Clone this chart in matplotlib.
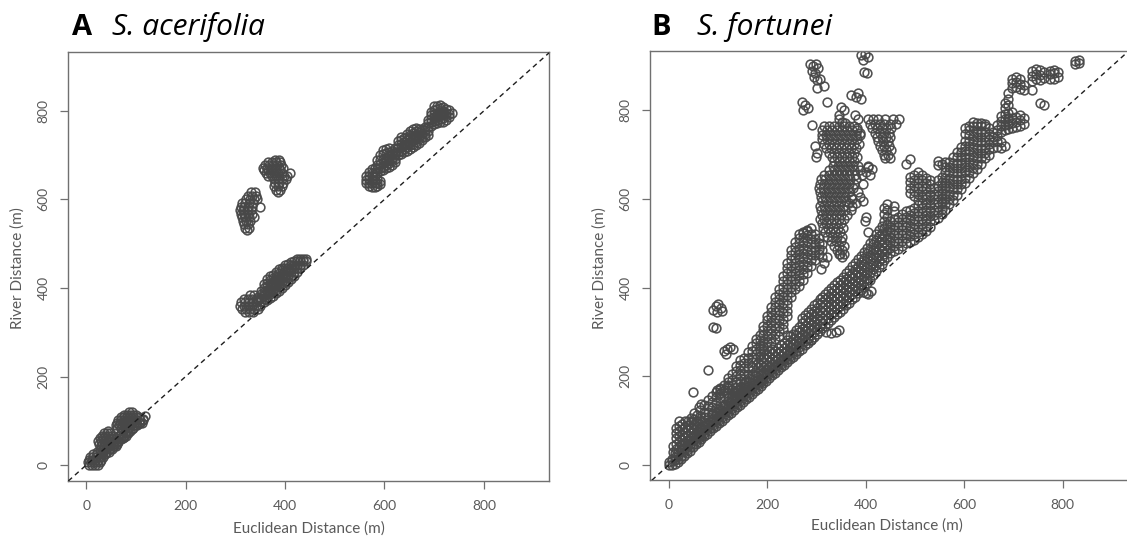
import matplotlib
matplotlib.use("Agg")
import matplotlib.pyplot as plt

plt.rcParams['font.family'] = ['Lato', 'DejaVu Sans']

# ---------------- Panel A: S. acerifolia (rows: (y, [x...]) or (x, [y...])) ----------------
A_origin_yrows = [
    (0, [6, 12, 18, 24]), (6, [4, 10, 16, 22, 28]), (12, [6, 12, 18, 24, 30]),
    (18, [8, 14, 20, 28, 34]), (24, [14, 22, 30, 38]), (30, [22, 28, 34, 40, 46]),
    (36, [28, 34, 40, 46, 52]), (42, [30, 36, 42, 48, 54, 60]),
    (48, [26, 32, 38, 44, 50, 56, 62]), (54, [24, 30, 36, 42, 48, 56, 64]),
    (60, [28, 34, 40, 46, 52, 60, 68, 74]), (66, [32, 38, 44, 50, 66, 74, 80]),
    (72, [36, 42, 48, 70, 78, 84]), (78, [44, 74, 82, 88]), (84, [62, 70, 78, 86, 94]),
    (90, [60, 66, 72, 80, 88, 96, 102]), (96, [62, 68, 74, 80, 86, 92, 100, 106, 112]),
    (102, [64, 70, 76, 82, 88, 94, 100, 108, 114]), (108, [70, 76, 82, 88, 94, 100, 106]),
    (114, [76, 82, 88, 94, 100]), (120, [86, 92]),
]
A_origin_low_x = [40, 48, 56, 64, 70, 76, 84, 92, 100, 108, 114, 118]
A_origin_low_y = [28, 36, 44, 52, 58, 64, 74, 82, 90, 96, 104, 110]
A_upper1_yrows = [
    (616, [332, 340]), (608, [326, 334, 342]), (600, [322, 330, 338, 344]),
    (592, [314, 320, 328, 336]), (584, [312, 318, 326, 334, 350]),
    (576, [310, 316, 324, 332]), (568, [312, 318, 326, 334]),
    (560, [314, 320, 328, 338]), (552, [316, 322, 330]), (544, [318, 326]),
    (536, [320, 328]), (530, [324]),
]
A_upper2_yrows = [
    (690, [380, 388]), (684, [366, 374, 382, 390]), (678, [360, 368, 376, 384, 392]),
    (672, [356, 364, 372, 380, 388, 396]), (666, [358, 366, 374, 382, 390]),
    (660, [362, 370, 378, 386, 394, 410]), (654, [366, 374, 382, 398, 404]),
    (646, [378, 386, 394, 402]), (638, [380, 388, 396]), (630, [378, 386, 394]),
    (622, [382, 390]), (616, [386]),
]
A_mid1_yrows = [
    (384, [330, 338]), (376, [318, 326, 334, 342]), (368, [312, 320, 328, 336, 344]),
    (360, [310, 318, 326, 334, 342, 350]), (352, [314, 322, 330, 338, 346]),
    (346, [320, 328, 336]),
]
A_mid2_xrows = [
    (346, [372, 380]), (352, [370, 378, 386, 394]), (358, [368, 376, 384, 392, 400, 410]),
    (364, [372, 380, 388, 396, 404, 412, 420]), (370, [378, 386, 394, 402, 410, 418, 426]),
    (376, [382, 390, 398, 406, 414, 422, 430]), (382, [388, 396, 404, 412, 420, 428, 436]),
    (388, [394, 402, 410, 418, 426, 434, 442]), (394, [400, 408, 416, 424, 432, 440, 446]),
    (400, [406, 414, 422, 430, 438, 446, 452]), (406, [414, 422, 430, 438, 446, 454]),
    (412, [420, 428, 436, 444, 452, 458]), (418, [428, 436, 444, 452, 460]),
    (424, [436, 444, 452, 460, 466]), (430, [444, 452, 460, 466]),
    (436, [452, 460, 466]), (442, [460, 466]),
]
A_far1_xrows = [
    (562, [636, 644, 652]), (568, [630, 638, 646, 654, 662]),
    (574, [628, 636, 644, 652, 660, 668]), (580, [628, 636, 644, 652]),
    (586, [630, 638, 646]), (592, [634, 642]),
]
A_far2_xrows = [
    (580, [662, 672]), (586, [660, 668, 678, 688]), (592, [664, 672, 680, 690, 700]),
    (598, [666, 674, 682, 692, 702, 712]), (604, [670, 678, 686, 694, 704, 714]),
    (610, [674, 682, 690, 698, 706, 716]), (616, [678, 686, 694, 702, 710]),
    (622, [684, 692, 700, 708, 716]), (628, [700, 708, 716, 724, 732]),
    (634, [702, 710, 718, 726, 734, 742]), (640, [706, 714, 722, 730, 738]),
    (646, [710, 718, 726, 734, 742, 748]), (652, [714, 722, 730, 738, 746, 754]),
    (658, [718, 726, 734, 742, 750, 758]), (664, [722, 730, 738, 746, 754, 762]),
    (670, [728, 736, 744, 752, 760]), (676, [734, 742, 750, 758]),
    (682, [740, 748, 756, 764]), (688, [746, 754, 764, 772, 780]),
    (694, [766, 774, 782, 790, 798]), (700, [770, 778, 786, 794, 802, 810]),
    (706, [772, 780, 788, 796, 804, 812]), (712, [774, 782, 790, 798, 806, 814]),
    (718, [776, 784, 792, 800, 808]), (724, [780, 788, 796, 804]),
    (730, [786, 794, 802]), (736, [796]),
]

# ---------------- Panel B: S. fortunei ----------------
B_main_xrows = [
    (0, [0, 6]), (6, [0, 8, 14]), (12, [2, 10, 18, 26]), (18, [6, 14, 22, 30]),
    (24, [12, 20, 28, 36]), (30, [20, 28, 36, 44]), (36, [26, 34, 42, 50]),
    (42, [32, 40, 48, 56]), (48, [40, 48, 56, 64]), (54, [46, 54, 62, 70]),
    (60, [52, 60, 68, 76]), (66, [58, 66, 74, 82]), (72, [64, 72, 80, 88]),
    (78, [70, 78, 86, 94]), (84, [76, 84, 92, 100]), (90, [82, 90, 98, 106, 114]),
    (96, [88, 96, 104, 112, 120]), (102, [94, 102, 110, 118, 126]),
    (108, [100, 108, 116, 124, 132]), (114, [106, 114, 122, 130, 138]),
    (120, [112, 120, 128, 136, 144]), (126, [118, 126, 134, 142, 150]),
    (132, [124, 132, 140, 148, 156, 164]), (138, [130, 138, 146, 154, 162, 170]),
    (144, [136, 144, 152, 160, 168, 176]), (150, [142, 150, 158, 166, 174, 182]),
    (156, [148, 156, 164, 172, 180, 190]), (162, [154, 162, 170, 178, 186, 196]),
    (168, [160, 168, 176, 184, 194, 204]), (174, [166, 174, 182, 190, 200, 210]),
    (180, [172, 180, 188, 198, 208, 220, 230]), (186, [178, 186, 194, 204, 214, 226, 238]),
    (192, [184, 192, 200, 210, 220, 232, 244]), (198, [190, 198, 206, 216, 226, 238, 250]),
    (204, [196, 204, 212, 222, 232, 244, 256]), (210, [202, 210, 218, 228, 240, 252, 262]),
    (216, [208, 216, 224, 234, 246, 258]), (222, [214, 222, 230, 240, 252, 264]),
    (228, [220, 228, 236, 246, 258, 270]), (234, [226, 234, 242, 252, 264, 276]),
    (240, [232, 240, 248, 258, 270, 282, 292]), (246, [238, 246, 256, 266, 278, 290]),
    (252, [244, 252, 262, 272, 284, 296]), (258, [250, 258, 268, 280, 292, 304]),
    (264, [256, 266, 276, 288, 300, 312]), (270, [262, 272, 282, 294, 306, 320, 332]),
    (276, [270, 280, 290, 302, 314, 326, 338]), (282, [276, 286, 298, 310, 322, 334, 346]),
    (288, [282, 292, 304, 316, 328, 340, 352]), (294, [288, 300, 312, 324, 336, 348, 360]),
    (300, [296, 306, 318, 330, 342, 354, 366]), (306, [302, 314, 326, 338, 350, 362, 374]),
    (312, [308, 320, 332, 344, 356, 368, 380]), (318, [314, 326, 338, 350, 362, 374, 386]),
    (324, [320, 332, 344, 356, 368, 380, 392]), (330, [328, 340, 352, 364, 376, 388, 400]),
    (336, [334, 346, 358, 370, 382, 394, 406]), (342, [340, 352, 364, 376, 388, 400, 412]),
    (348, [346, 358, 370, 382, 394, 406, 418]), (354, [352, 364, 376, 388, 400, 412, 424]),
    (360, [360, 372, 384, 396, 408, 420, 432]), (366, [366, 378, 390, 402, 414, 426, 440]),
    (372, [374, 386, 398, 410, 422, 434, 448]), (378, [380, 392, 404, 416, 428, 442, 456]),
    (384, [388, 400, 412, 424, 436, 450, 464]), (390, [394, 406, 418, 430, 444, 458, 472]),
    (396, [402, 414, 426, 440, 454, 468, 480]), (402, [410, 422, 436, 450, 464, 478, 490]),
    (408, [418, 432, 446, 460, 474, 488, 500]), (414, [428, 442, 456, 470, 484, 498, 510]),
    (420, [438, 452, 466, 480, 494, 508, 520]), (426, [446, 460, 474, 488, 502, 516, 530]),
    (432, [454, 468, 482, 496, 510, 524, 540]),
    (438, [462, 476, 490, 504, 518, 534, 550, 566, 580]),
    (444, [470, 484, 498, 512, 528, 544, 560, 575, 588]),
    (450, [478, 490, 502, 514, 526, 538, 550]),
    (458, [482, 494, 506, 518, 530, 542, 556, 572, 584]),
    (466, [488, 500, 512, 524, 536, 548, 560]),
    (474, [494, 506, 518, 530, 542, 554, 566]),
    (482, [500, 512, 524, 536, 548, 560, 572, 680]),
    (490, [504, 516, 528, 540, 552, 564, 576, 614, 626, 638, 650, 690]),
    (498, [508, 520, 532, 544, 556, 568, 580, 606, 618, 630, 642, 654]),
    (506, [514, 526, 538, 550, 562, 574, 586, 598, 612, 624, 636, 648, 660]),
    (514, [520, 532, 544, 556, 568, 580, 592, 604, 618, 630, 642, 654]),
    (522, [528, 540, 552, 564, 576, 588, 600, 612, 624, 636, 648]),
    (530, [538, 550, 562, 574, 586, 598, 610, 622, 634, 644]),
    (538, [552, 564, 576, 588, 600, 612, 624]),
    (546, [558, 570, 582, 594, 606, 618, 630, 642, 676, 686]),
    (554, [566, 578, 590, 602, 614, 626, 638, 650, 680]),
    (562, [576, 588, 600, 612, 624, 636, 648, 660, 672, 684]),
    (570, [588, 600, 612, 624, 636, 648, 660, 672, 684]),
    (578, [598, 610, 622, 634, 646, 658, 670, 682, 694]),
    (586, [610, 622, 634, 646, 658, 670, 682, 694, 706]),
    (594, [622, 634, 646, 658, 670, 682, 694, 706, 718]),
    (602, [636, 648, 660, 672, 684, 696, 708, 720, 732, 746, 760]),
    (610, [648, 660, 672, 684, 696, 708, 720, 732, 744, 756, 766]),
    (618, [658, 670, 682, 694, 706, 718, 730, 742, 754, 766, 774]),
    (626, [668, 680, 692, 704, 716, 728, 740, 752, 764, 772]),
    (634, [680, 692, 704, 716, 728, 740, 752, 764, 772]),
    (642, [692, 704, 716, 728, 740, 752, 764, 770]),
    (650, [700, 712, 724, 736, 748, 760]),
    (658, [716, 728, 740, 752]), (666, [718, 730, 742, 756, 768]),
    (674, [716, 728, 752, 764, 776, 788]), (682, [720, 756, 768, 780, 792, 806, 818]),
    (690, [758, 770, 782, 794, 812, 826, 840]), (698, [760, 772, 784, 796, 850, 862, 872]),
    (706, [762, 774, 786, 852, 864, 876]), (714, [766, 778, 790, 848, 860, 872]),
    (722, [770, 782, 846, 858]), (738, [846, 866, 878, 890]), (746, [870, 882, 894]),
    (754, [816, 868, 880, 892]), (762, [812, 874, 886]), (774, [870, 882, 890]),
    (782, [872, 884, 892]), (790, [876, 888]), (826, [906, 912]), (834, [908, 914]),
]
B_cloud_xrows = [
    (8, [30, 42]), (14, [36, 48, 60, 72, 84]), (20, [40, 52, 64, 76, 88, 98]),
    (26, [44, 56, 68, 80, 92]), (32, [50, 62, 74, 86, 98]), (38, [54, 66, 78, 90, 100]),
    (44, [60, 72, 84, 96, 106]), (50, [68, 80, 92, 104, 118]), (56, [76, 88, 100, 112]),
    (64, [86, 98, 110, 124]), (72, [96, 108, 120, 134]), (80, [108, 120, 132, 146]),
    (88, [118, 130, 142, 156]), (96, [128, 140, 152, 164]),
]
B_branch_xrows = [
    (104, [150, 162, 174]), (112, [156, 168, 180]), (120, [150, 162, 174, 186, 196]),
    (128, [156, 168, 180, 192, 204]), (136, [164, 176, 188, 200, 212, 222]),
    (144, [190, 202, 214, 226, 236]), (152, [194, 206, 218, 230, 242]),
    (160, [206, 218, 230, 242, 254]), (168, [220, 232, 244, 256, 268]),
    (176, [238, 250, 262, 274, 284]), (184, [246, 258, 270, 282, 294]),
    (192, [256, 268, 280, 292, 304, 314]), (200, [266, 278, 290, 302, 314, 326, 336]),
    (208, [274, 286, 298, 310, 322, 334, 346, 356]),
    (216, [284, 296, 308, 320, 332, 344, 356, 368, 378]),
    (224, [290, 302, 314, 326, 338, 350, 362, 374, 386, 398]),
    (232, [306, 318, 330, 342, 354, 366, 378, 390, 402, 414, 426]),
    (240, [336, 348, 360, 372, 384, 396, 408, 420, 432, 444, 456]),
    (248, [378, 390, 402, 414, 426, 438, 450, 462, 474, 486]),
    (256, [396, 408, 420, 432, 444, 456, 468, 480, 492, 504]),
    (264, [404, 416, 428, 440, 452, 464, 476, 488, 500, 512]),
    (272, [418, 430, 442, 454, 466, 478, 490, 502, 514, 524]),
    (280, [434, 446, 458, 470, 482, 494, 506, 518, 528]),
    (288, [450, 462, 474, 486, 498, 510, 522]), (296, [462, 474, 486, 498, 510, 520]),
    (304, [476, 488, 500, 512]), (310, [486, 498]),
]
B_column_yrows = [
    (765, [316, 326, 336, 346, 356, 366, 376]),
    (755, [312, 322, 332, 342, 352, 362, 372, 382]),
    (745, [310, 320, 330, 340, 350, 360, 370, 380, 388]),
    (735, [312, 322, 332, 342, 352, 362, 372, 382]),
    (725, [316, 326, 336, 346, 356, 366, 376, 386]),
    (715, [320, 330, 340, 350, 360, 370, 380]), (705, [326, 336, 346, 356, 366, 376]),
    (695, [332, 342, 352, 362, 372, 382]), (685, [336, 346, 356, 366, 376]),
    (675, [334, 344, 354, 364, 374, 384]), (665, [326, 336, 346, 356, 366, 376, 388]),
    (655, [316, 326, 336, 346, 356, 366, 378, 392]),
    (645, [308, 318, 328, 338, 348, 358, 368, 380]),
    (635, [306, 316, 326, 336, 346, 356, 366, 376, 394]),
    (625, [304, 314, 324, 334, 344, 354, 364, 374]),
    (615, [306, 316, 326, 336, 346, 356, 366, 384]),
    (605, [308, 318, 328, 338, 348, 358, 370]), (595, [310, 320, 330, 340, 350, 360]),
    (585, [306, 316, 326, 336, 346, 356, 372]), (575, [308, 318, 328, 338, 348, 358]),
    (565, [310, 320, 330, 340, 350, 362]), (555, [306, 316, 326, 336, 346, 356]),
    (545, [310, 320, 330, 340, 350]), (535, [314, 324, 334, 344, 354]),
    (525, [318, 328, 338, 348]), (515, [322, 332, 342, 352]), (505, [330, 340, 350]),
    (495, [336, 346, 356]), (485, [342, 352]), (476, [348, 356]),
]
B_side_yrows = [
    (780, [405, 415, 425, 440, 455, 468]), (770, [408, 418, 428, 438, 450, 462]),
    (760, [412, 422, 432, 442, 452]), (750, [418, 428, 438, 448]),
    (740, [422, 432, 442, 450]), (730, [425, 435, 445]), (720, [428, 438, 448]),
    (710, [432, 442, 452]), (700, [436, 446]), (693, [440, 450]),
]
B_scatter_x = [286, 292, 298, 290, 296, 302, 294, 300, 306, 315, 300, 270, 276, 272, 282,
               290, 296, 300, 298, 322, 350, 356, 346, 345, 352, 358, 370, 380, 390, 384,
               390, 398, 405, 395, 397, 403, 378, 385, 382, 388, 405, 412,
               90, 95, 100, 105, 98, 108, 90, 96, 112, 118, 124, 130, 116, 80, 48, 60, 66,
               98, 104, 110, 118, 102, 120, 308, 316, 322, 312, 345, 352,
               320, 330, 340, 345, 282, 288, 400, 405, 395, 410,
               265, 272, 280, 288, 372, 380, 388, 395, 400, 398, 405, 365, 370, 400, 405, 408]
B_scatter_y = [905, 900, 905, 890, 885, 895, 875, 868, 872, 855, 850, 820, 812, 800, 805,
               768, 720, 705, 695, 820, 808, 800, 790, 780, 775, 772, 835, 830, 826, 840,
               925, 928, 920, 915, 888, 885, 790, 780, 760, 750, 672, 668,
               350, 358, 362, 355, 345, 348, 312, 310, 258, 262, 265, 262, 250, 214, 165, 130, 138,
               168, 172, 166, 175, 160, 180, 442, 455, 470, 470, 475, 470,
               300, 298, 300, 305, 285, 282, 387, 385, 390, 392,
               520, 525, 530, 535, 600, 590, 605, 595, 560, 550, 525, 590, 575, 660, 675, 655]

TICKS = [0, 200, 400, 600, 800]


def from_xrows(rows):
    xs, ys = [], []
    for x, yl in rows:
        for y in yl:
            xs.append(x)
            ys.append(y)
    return xs, ys


def from_yrows(rows):
    xs, ys = [], []
    for y, xl in rows:
        for x in xl:
            xs.append(x)
            ys.append(y)
    return xs, ys


def gather(xrow_sets, yrow_sets, extras=()):
    X, Y = [], []
    for r in xrow_sets:
        a, b = from_xrows(r)
        X += a
        Y += b
    for r in yrow_sets:
        a, b = from_yrows(r)
        X += a
        Y += b
    for ex, ey in extras:
        X += list(ex)
        Y += list(ey)
    return X, Y


W, H = 1127, 541
fig = plt.figure(figsize=(W / 100, H / 100), dpi=100)
GRAY = '#5a5a5a'
PT_COL = '#484848'


def make_axes(left_px, right_px, top_px, bottom_px, xlim, ylim):
    ax = fig.add_axes([left_px / W, (H - bottom_px) / H,
                       (right_px - left_px) / W, (bottom_px - top_px) / H])
    ax.set_xlim(*xlim)
    ax.set_ylim(*ylim)
    ax.set_xticks(TICKS)
    ax.set_yticks(TICKS)
    for s in ax.spines.values():
        s.set_color('#707070')
        s.set_linewidth(1.0)
    ax.tick_params(axis='both', length=6, width=0.9, color='#707070',
                   labelcolor=GRAY, labelsize=10, pad=7.5)
    ax.tick_params(axis='y', labelrotation=90)
    for lab in ax.get_yticklabels():
        lab.set_va('center')
    return ax


def draw(ax, X, Y):
    ax.plot(X, Y, linestyle='none', marker='o', markersize=6.3, markerfacecolor='none',
            markeredgecolor=PT_COL, markeredgewidth=1.15, alpha=0.95)
    ax.axline((0, 0), slope=1, color='#1e1e1e', linewidth=1.0, dashes=(3.6, 2.8), zorder=5)


axA = make_axes(68.3, 549, 52, 481, (-36, 931), (-36, 933))
XA, YA = gather([A_mid2_xrows, A_far1_xrows, A_far2_xrows],
                [A_origin_yrows, A_upper1_yrows, A_upper2_yrows, A_mid1_yrows],
                [(A_origin_low_x, A_origin_low_y)])
draw(axA, XA, YA)

axB = make_axes(650.3, 1129.5, 50.7, 480.3, (-38, 936), (-35, 935))
XB, YB = gather([B_main_xrows, B_cloud_xrows, B_branch_xrows],
                [B_column_yrows, B_side_yrows], [(B_scatter_x, B_scatter_y)])
draw(axB, XB, YB)

# axis titles
fig.text(308.7 / W, (H - 533) / H, 'Euclidean Distance (m)', ha='center', va='baseline',
         fontsize=11, color=GRAY)
fig.text(887 / W, (H - 530) / H, 'Euclidean Distance (m)', ha='center', va='baseline',
         fontsize=11, color=GRAY)
fig.text(18 / W, (H - 268) / H, 'River Distance (m)', ha='center', va='center',
         rotation=90, fontsize=11, color=GRAY)
fig.text(600 / W, (H - 268) / H, 'River Distance (m)', ha='center', va='center',
         rotation=90, fontsize=11, color=GRAY)

# panel titles
TFONT = ['Open Sans', 'DejaVu Sans']
fig.text(71.7 / W, (H - 35) / H, 'A', ha='left', va='baseline', fontsize=21,
         fontweight='bold', color='black', family=TFONT)
fig.text(111.7 / W, (H - 35) / H, 'S. acerifolia', ha='left', va='baseline', fontsize=21.5,
         fontstyle='italic', color='black', family=TFONT)
fig.text(651.7 / W, (H - 35) / H, 'B', ha='left', va='baseline', fontsize=21,
         fontweight='bold', color='black', family=TFONT)
fig.text(697 / W, (H - 35) / H, 'S. fortunei', ha='left', va='baseline', fontsize=21.5,
         fontstyle='italic', color='black', family=TFONT)

fig.savefig('out.png', dpi=100, facecolor='white')
